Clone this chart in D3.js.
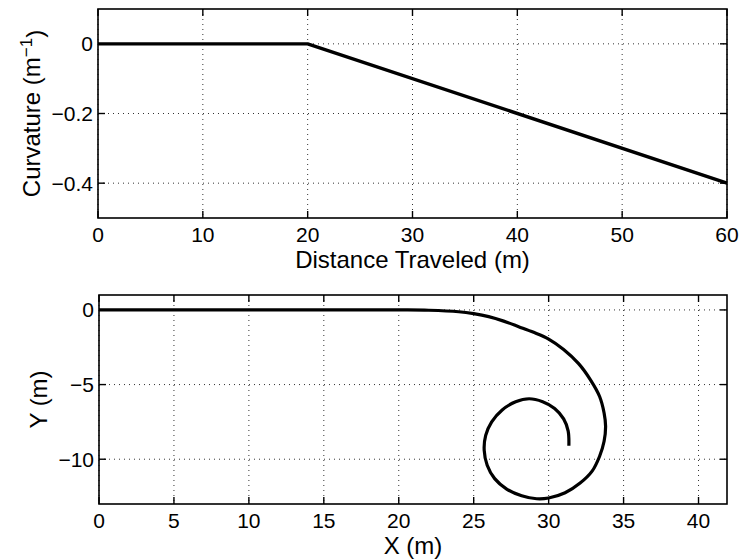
<!DOCTYPE html>
<html>
<head>
<meta charset="utf-8">
<script src="https://cdn.jsdelivr.net/npm/d3@7"></script>
<style>
  html, body { margin: 0; padding: 0; background: #fff; }
  svg text { font-family: "Liberation Sans", Arial, Helvetica, sans-serif; fill: #000; }
</style>
</head>
<body>
<svg id="chart" width="742" height="559"></svg>
<script>
// ---- Data: top panel (curvature profile) ----
const distance = [0, 20, 60];
const curvature = [0, 0, -0.4];
const topXTicks = [0, 10, 20, 30, 40, 50, 60];
const topYTicks = [-0.4, -0.2, 0];

// ---- Data: bottom panel (path) ----
const pathX = [0, 10, 20, 22, 24, 25, 26, 27, 28, 29, 30, 31, 32, 32.8, 33.4, 33.7, 33.8, 33.7, 33.4, 32.9, 32.1, 31.1, 30.0, 29.2, 28.2, 27.2, 26.4, 25.9, 25.7, 25.8, 26.2, 26.9, 27.8, 28.7, 29.6, 30.4, 31.0, 31.3, 31.35];
const pathY = [0, 0, 0, -0.02, -0.12, -0.25, -0.45, -0.75, -1.12, -1.5, -1.95, -2.65, -3.6, -4.7, -5.8, -6.9, -7.8, -8.8, -9.8, -10.8, -11.6, -12.25, -12.6, -12.65, -12.45, -12.0, -11.3, -10.4, -9.4, -8.4, -7.5, -6.7, -6.15, -5.95, -6.15, -6.6, -7.3, -8.1, -9.1];
const botXTicks = [0, 5, 10, 15, 20, 25, 30, 35, 40];
const botYTicks = [-10, -5, 0];

const svg = d3.select("#chart");
const fmt = v => (v < 0 ? "\u2212" + String(Math.abs(v)) : String(v));

function panel(opts) {
  const { left, right, top, bottom, xDomain, yDomain, xTicks, yTicks, ylabel, xlabel, ylabelX } = opts;
  const x = d3.scaleLinear().domain(xDomain).range([left, right]);
  const y = d3.scaleLinear().domain(yDomain).range([bottom, top]);
  const g = svg.append("g");

  // grid
  g.selectAll(".gx").data(xTicks).enter().append("line")
    .attr("x1", d => x(d)).attr("x2", d => x(d)).attr("y1", top).attr("y2", bottom)
    .attr("stroke", "#333").attr("stroke-width", 1).attr("stroke-dasharray", "1,4");
  g.selectAll(".gy").data(yTicks).enter().append("line")
    .attr("x1", left).attr("x2", right).attr("y1", d => y(d)).attr("y2", d => y(d))
    .attr("stroke", "#333").attr("stroke-width", 1).attr("stroke-dasharray", "1,4");

  // inward ticks on all four sides
  const tl = 7;
  g.selectAll(".tb").data(xTicks).enter().append("line")
    .attr("x1", d => x(d)).attr("x2", d => x(d)).attr("y1", bottom).attr("y2", bottom - tl)
    .attr("stroke", "#000").attr("stroke-width", 1.4);
  g.selectAll(".tt").data(xTicks).enter().append("line")
    .attr("x1", d => x(d)).attr("x2", d => x(d)).attr("y1", top).attr("y2", top + tl)
    .attr("stroke", "#000").attr("stroke-width", 1.4);
  g.selectAll(".tlft").data(yTicks).enter().append("line")
    .attr("x1", left).attr("x2", left + tl).attr("y1", d => y(d)).attr("y2", d => y(d))
    .attr("stroke", "#000").attr("stroke-width", 1.4);
  g.selectAll(".trt").data(yTicks).enter().append("line")
    .attr("x1", right).attr("x2", right - tl).attr("y1", d => y(d)).attr("y2", d => y(d))
    .attr("stroke", "#000").attr("stroke-width", 1.4);

  // frame
  g.append("rect").attr("x", left).attr("y", top).attr("width", right - left).attr("height", bottom - top)
    .attr("fill", "none").attr("stroke", "#000").attr("stroke-width", 1.6);

  // tick labels
  g.selectAll(".lx").data(xTicks).enter().append("text")
    .attr("x", d => x(d)).attr("y", bottom + 24)
    .attr("text-anchor", "middle").attr("font-size", 21).text(fmt);
  g.selectAll(".ly").data(yTicks).enter().append("text")
    .attr("x", left - 5).attr("y", d => y(d)).attr("dy", "0.36em")
    .attr("text-anchor", "end").attr("font-size", 21).text(fmt);

  // axis labels
  g.append("text").attr("x", (left + right) / 2).attr("y", bottom + 50)
    .attr("text-anchor", "middle").attr("font-size", 24).text(xlabel);
  const yl = g.append("text")
    .attr("transform", `translate(${ylabelX},${(top + bottom) / 2}) rotate(-90)`)
    .attr("text-anchor", "middle").attr("font-size", 24);
  ylabel(yl);

  return { x, y, g };
}

// ---- Top panel ----
const p1 = panel({
  left: 98, right: 727, top: 9, bottom: 218,
  xDomain: [0, 60], yDomain: [-0.5, 0.1],
  xTicks: topXTicks, yTicks: topYTicks,
  xlabel: "Distance Traveled (m)", ylabelX: 40,
  ylabel: t => {
    t.append("tspan").text("Curvature (m");
    t.append("tspan").attr("dy", "-0.45em").attr("font-size", 17).text("\u22121");
    t.append("tspan").attr("dy", "0.45em").text(")");
  }
});
const line1 = d3.line().x(d => p1.x(d[0])).y(d => p1.y(d[1]));
p1.g.append("path").datum(distance.map((d, i) => [d, curvature[i]]))
  .attr("d", line1).attr("fill", "none").attr("stroke", "#000").attr("stroke-width", 3.4)
  .attr("stroke-linejoin", "round");

// ---- Bottom panel ----
const p2 = panel({
  left: 99, right: 727, top: 295, bottom: 504,
  xDomain: [0, 41.9], yDomain: [-13, 1],
  xTicks: botXTicks, yTicks: botYTicks,
  xlabel: "X (m)", ylabelX: 47,
  ylabel: t => t.text("Y (m)")
});
const line2 = d3.line().x(d => p2.x(d[0])).y(d => p2.y(d[1])).curve(d3.curveCatmullRom.alpha(0.5));
p2.g.append("path").datum(pathX.map((d, i) => [d, pathY[i]]))
  .attr("d", line2).attr("fill", "none").attr("stroke", "#000").attr("stroke-width", 3.2)
  .attr("stroke-linejoin", "round");
</script>
</body>
</html>
